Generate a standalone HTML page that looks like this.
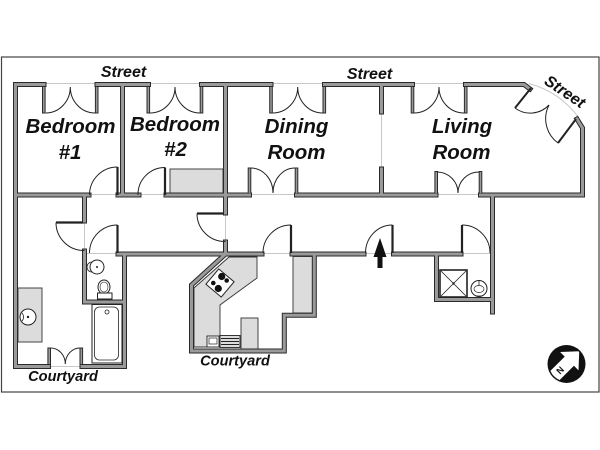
<!DOCTYPE html>
<html><head><meta charset="utf-8"><style>
html,body{margin:0;padding:0;background:#fff;}
svg{display:block;}
text{font-family:"Liberation Sans",Arial,sans-serif;font-weight:bold;font-style:italic;fill:#111;}
</style></head><body>
<svg width="600" height="450" viewBox="0 0 600 450" xmlns="http://www.w3.org/2000/svg">
<rect width="600" height="450" fill="#fff"/>
<rect x="1.5" y="57" width="597.5" height="335" fill="none" stroke="#444" stroke-width="1.2"/>

<!-- light window / threshold lines -->
<g stroke="#c8c8c8" stroke-width="1" fill="none">
<path d="M45,83.5 H95 M150,83.5 H200 M272,83.5 H323 M414,83.5 H464"/>
<path d="M529,83.5 Q560,92 579,118"/>
<path d="M381.5,113 V168"/>
<path d="M90,194.5 H117 M140,194.5 H164 M251,194.5 H295 M437,194.5 H479"/>
<path d="M87,253.5 H117 M263,253.5 H291 M365,253.5 H392 M462,253.5 H490"/>
<path d="M84.5,222 V250 M225.5,214 V241"/>
<path d="M50,366.5 H81"/>
</g>

<!-- counters -->
<g fill="#dcdcdc" stroke="#333" stroke-width="0.9">
<rect x="170" y="169" width="53" height="24"/>
<rect x="18" y="288" width="24" height="54"/>
<polygon points="229,257 257,257 257,278 220,305 220,347 194,347 194,288"/>
<rect x="293" y="256.5" width="19.5" height="56.5"/>
<rect x="241" y="318" width="17" height="31"/>
</g>

<!-- main walls: dark outline pass -->
<g fill="none" stroke="#2a2a2a" stroke-width="5" stroke-linecap="square" stroke-linejoin="miter">
<path id="wm" d="M15.5,366.5 V84.5 H44 M97,84.5 H148.5 M201.5,84.5 H271 M324.5,84.5 H412.5 M465.5,84.5 H524 L530,89
M577,119 L582.5,128 V195
M15.5,195 H89 M118,195 H139 M166,195 H249.5 M296.5,195 H436 M480.5,195 H582.5
M122.5,84.5 V195 M225.5,84.5 V213 M225.5,242 V254
M381.5,84.5 V112 M381.5,169 V195
M84.5,195 V221 M84.5,251 V302 H124.5 M124.5,254 V366.5
M15.5,366.5 H48.5 M82,366.5 H124.5
M118,254 H262 M292,254 H364 M393.5,254 H461
M492.5,195 V312 M436.5,254 V299.5 H492.5
M225.5,254 L191.5,285 V351 H284.3 V315.3 H314.3 V254"/>
</g>
<g fill="none" stroke="#2a2a2a" stroke-width="3.6" stroke-linecap="butt">
<path d="M43.8,84 V113.5 M96.7,84 V113.5 M148.3,84 V113.5 M201.5,84 V113.5 M271,84 V113.5 M324.3,84 V113.5 M412.5,84 V113.5 M465.7,84 V113.5
M249.5,167.5 V196 M296.5,167.5 V196 M436.2,171 V196 M480.5,171 V196
M49.2,347.5 V367 M81.3,347.5 V367"/>
</g>
<!-- main walls: gray fill pass -->
<g fill="none" stroke="#9a9a9a" stroke-width="3" stroke-linecap="square" stroke-linejoin="miter">
<path d="M15.5,366.5 V84.5 H44 M97,84.5 H148.5 M201.5,84.5 H271 M324.5,84.5 H412.5 M465.5,84.5 H524 L530,89
M577,119 L582.5,128 V195
M15.5,195 H89 M118,195 H139 M166,195 H249.5 M296.5,195 H436 M480.5,195 H582.5
M122.5,84.5 V195 M225.5,84.5 V213 M225.5,242 V254
M381.5,84.5 V112 M381.5,169 V195
M84.5,195 V221 M84.5,251 V302 H124.5 M124.5,254 V366.5
M15.5,366.5 H48.5 M82,366.5 H124.5
M118,254 H262 M292,254 H364 M393.5,254 H461
M492.5,195 V312 M436.5,254 V299.5 H492.5
M225.5,254 L191.5,285 V351 H284.3 V315.3 H314.3 V254"/>
</g>
<g fill="none" stroke="#9a9a9a" stroke-width="1.6" stroke-linecap="butt">
<path d="M43.8,87 V112.5 M96.7,87 V112.5 M148.3,87 V112.5 M201.5,87 V112.5 M271,87 V112.5 M324.3,87 V112.5 M412.5,87 V112.5 M465.7,87 V112.5
M249.5,168.5 V193 M296.5,168.5 V193 M436.2,172 V193 M480.5,172 V193
M49.2,348.5 V364 M81.3,348.5 V364"/>
</g>

<!-- door leaves -->
<g stroke="#222" stroke-width="2.2" fill="none">
<path d="M117.5,167 V195 M165,167.5 V195 M56,222.5 H83 M197,213.5 H224 M117.5,225 V253 M291,225 V253 M392.5,225 V253 M462,225 V253"/>
<path d="M531,88 L515,108 M576,119 L558,143" stroke-width="2"/>
</g>
<!-- door arcs -->
<g stroke="#222" stroke-width="1" fill="none">
<path d="M45.7,113 A24.6,26 0 0 0 70.3,87 M95,113 A24.7,26 0 0 1 70.3,87"/>
<path d="M150,113 A25,26 0 0 0 175,87 M200,113 A25,26 0 0 1 175,87"/>
<path d="M272.7,113 A25,26 0 0 0 297.7,87 M322.7,113 A25,26 0 0 1 297.7,87"/>
<path d="M414,113 A25,26 0 0 0 439,87 M464,113 A25,26 0 0 1 439,87"/>
<path d="M251,168 A22,25 0 0 1 273,193 M295,168 A22,25 0 0 0 273,193"/>
<path d="M437.3,172 A21,21 0 0 1 458,193 M479,172 A21,21 0 0 0 458,193"/>
<path d="M50.7,348 A14.7,16 0 0 1 65.3,364 M80,348 A14.7,16 0 0 0 65.3,364"/>
<path d="M117.5,167 A28,28 0 0 0 89.5,195"/>
<path d="M165,167.5 A27,27 0 0 0 138,195"/>
<path d="M56,222.5 A28,28 0 0 0 84.5,250.5"/>
<path d="M197,213.5 A28,28 0 0 0 225.5,241.5"/>
<path d="M117.5,225 A28,28 0 0 0 89.5,253"/>
<path d="M291,225 A28,28 0 0 0 263,253"/>
<path d="M392.5,225 A27,28 0 0 0 365.5,253"/>
<path d="M462,225 A28,28 0 0 1 490,253"/>
<path d="M515,108 A25.6,25.6 0 0 0 549,105"/>
<path d="M558,143 A30,30 0 0 1 549,105"/>
</g>

<!-- kitchen fixtures -->
<g transform="translate(220,283) rotate(40)">
<rect x="-10" y="-10" width="20" height="20" fill="#fff" stroke="#222" stroke-width="1"/>
</g>
<g fill="#111">
<circle cx="221.7" cy="276.5" r="3.6"/>
<circle cx="218.3" cy="288.5" r="3.6"/>
<circle cx="213.3" cy="283" r="2.3"/>
<circle cx="226.7" cy="280.5" r="2.3"/>
</g>
<rect x="207" y="336" width="12" height="11" fill="#fff" stroke="#222" stroke-width="0.9"/>
<rect x="209" y="338" width="8" height="6" fill="none" stroke="#222" stroke-width="0.7"/>
<rect x="220" y="335.5" width="20" height="12" fill="#dcdcdc" stroke="#222" stroke-width="0.9"/>
<path d="M221,338.5 H239 M221,341.5 H239 M221,344.5 H239" stroke="#222" stroke-width="1"/>

<!-- bathroom fixtures -->
<circle cx="28" cy="317" r="8" fill="#fff" stroke="#222" stroke-width="1"/>
<path d="M22,313 A6,6 0 0 1 22,321" fill="none" stroke="#222" stroke-width="0.8"/>
<circle cx="28" cy="317" r="1.2" fill="#222"/>
<circle cx="97" cy="267" r="7" fill="#fff" stroke="#222" stroke-width="1"/>
<path d="M92,262 A5,5 0 0 0 92,272" fill="none" stroke="#222" stroke-width="0.8"/>
<circle cx="97" cy="267" r="1" fill="#222"/>
<ellipse cx="104" cy="287" rx="6" ry="7" fill="#fff" stroke="#222" stroke-width="1"/>
<ellipse cx="104" cy="287" rx="4" ry="5" fill="none" stroke="#222" stroke-width="0.6"/>
<rect x="97.5" y="293" width="14.5" height="6" fill="#fff" stroke="#222" stroke-width="1"/>
<rect x="92" y="304.5" width="30" height="58.5" fill="#fff" stroke="#222" stroke-width="1"/>
<rect x="94.5" y="307" width="24" height="53" rx="5" fill="#fff" stroke="#222" stroke-width="0.8"/>
<circle cx="107" cy="312" r="2" fill="none" stroke="#222" stroke-width="0.8"/>

<!-- shower -->
<rect x="440" y="270" width="27" height="27" fill="#fff" stroke="#222" stroke-width="1.6"/>
<path d="M441,271 L466,296 M466,271 L441,296" stroke="#222" stroke-width="0.8"/>
<circle cx="453.5" cy="283.5" r="1.2" fill="#222"/>
<circle cx="479" cy="288.5" r="8" fill="#fff" stroke="#222" stroke-width="1"/>
<ellipse cx="479" cy="289" rx="5" ry="3.5" fill="none" stroke="#222" stroke-width="0.7"/>
<path d="M479,281 V285 M476,296 H482" stroke="#222" stroke-width="0.8"/>

<!-- entrance arrow -->
<polygon points="380,238 386.5,257 382.5,257 382.5,268 377.5,268 377.5,257 373.5,257" fill="#111"/>

<!-- compass -->
<defs><clipPath id="cc"><circle cx="0" cy="0" r="17.5"/></clipPath></defs>
<g transform="translate(566.5,364)">
<circle r="19" fill="#111"/>
<g transform="rotate(45)" clip-path="url(#cc)">
<polygon points="0,-18 13,-4 6.5,-4 6.5,20 -6.5,20 -6.5,-4 -13,-4" fill="#fff"/>
<text x="0" y="12" font-size="9" text-anchor="middle" style="font-style:normal" fill="#111" transform="rotate(-90 0 9)">N</text>
</g>
</g>

<!-- labels -->
<g font-size="16" text-anchor="middle">
<text x="123.5" y="77">Street</text>
<text x="369.5" y="79">Street</text>
<text x="0" y="0" transform="translate(562,96) rotate(34)">Street</text>
</g>
<g font-size="20.5" text-anchor="middle">
<text x="70.5" y="133">Bedroom</text>
<text x="70" y="159">#1</text>
<text x="175" y="131">Bedroom</text>
<text x="175.5" y="156">#2</text>
<text x="296.5" y="133">Dining</text>
<text x="296.5" y="159">Room</text>
<text x="462" y="133">Living</text>
<text x="461.5" y="159">Room</text>
</g>
<g font-size="14.6" text-anchor="middle">
<text x="63" y="381">Courtyard</text>
<text x="235" y="365.5">Courtyard</text>
</g>
</svg>
</body></html>
